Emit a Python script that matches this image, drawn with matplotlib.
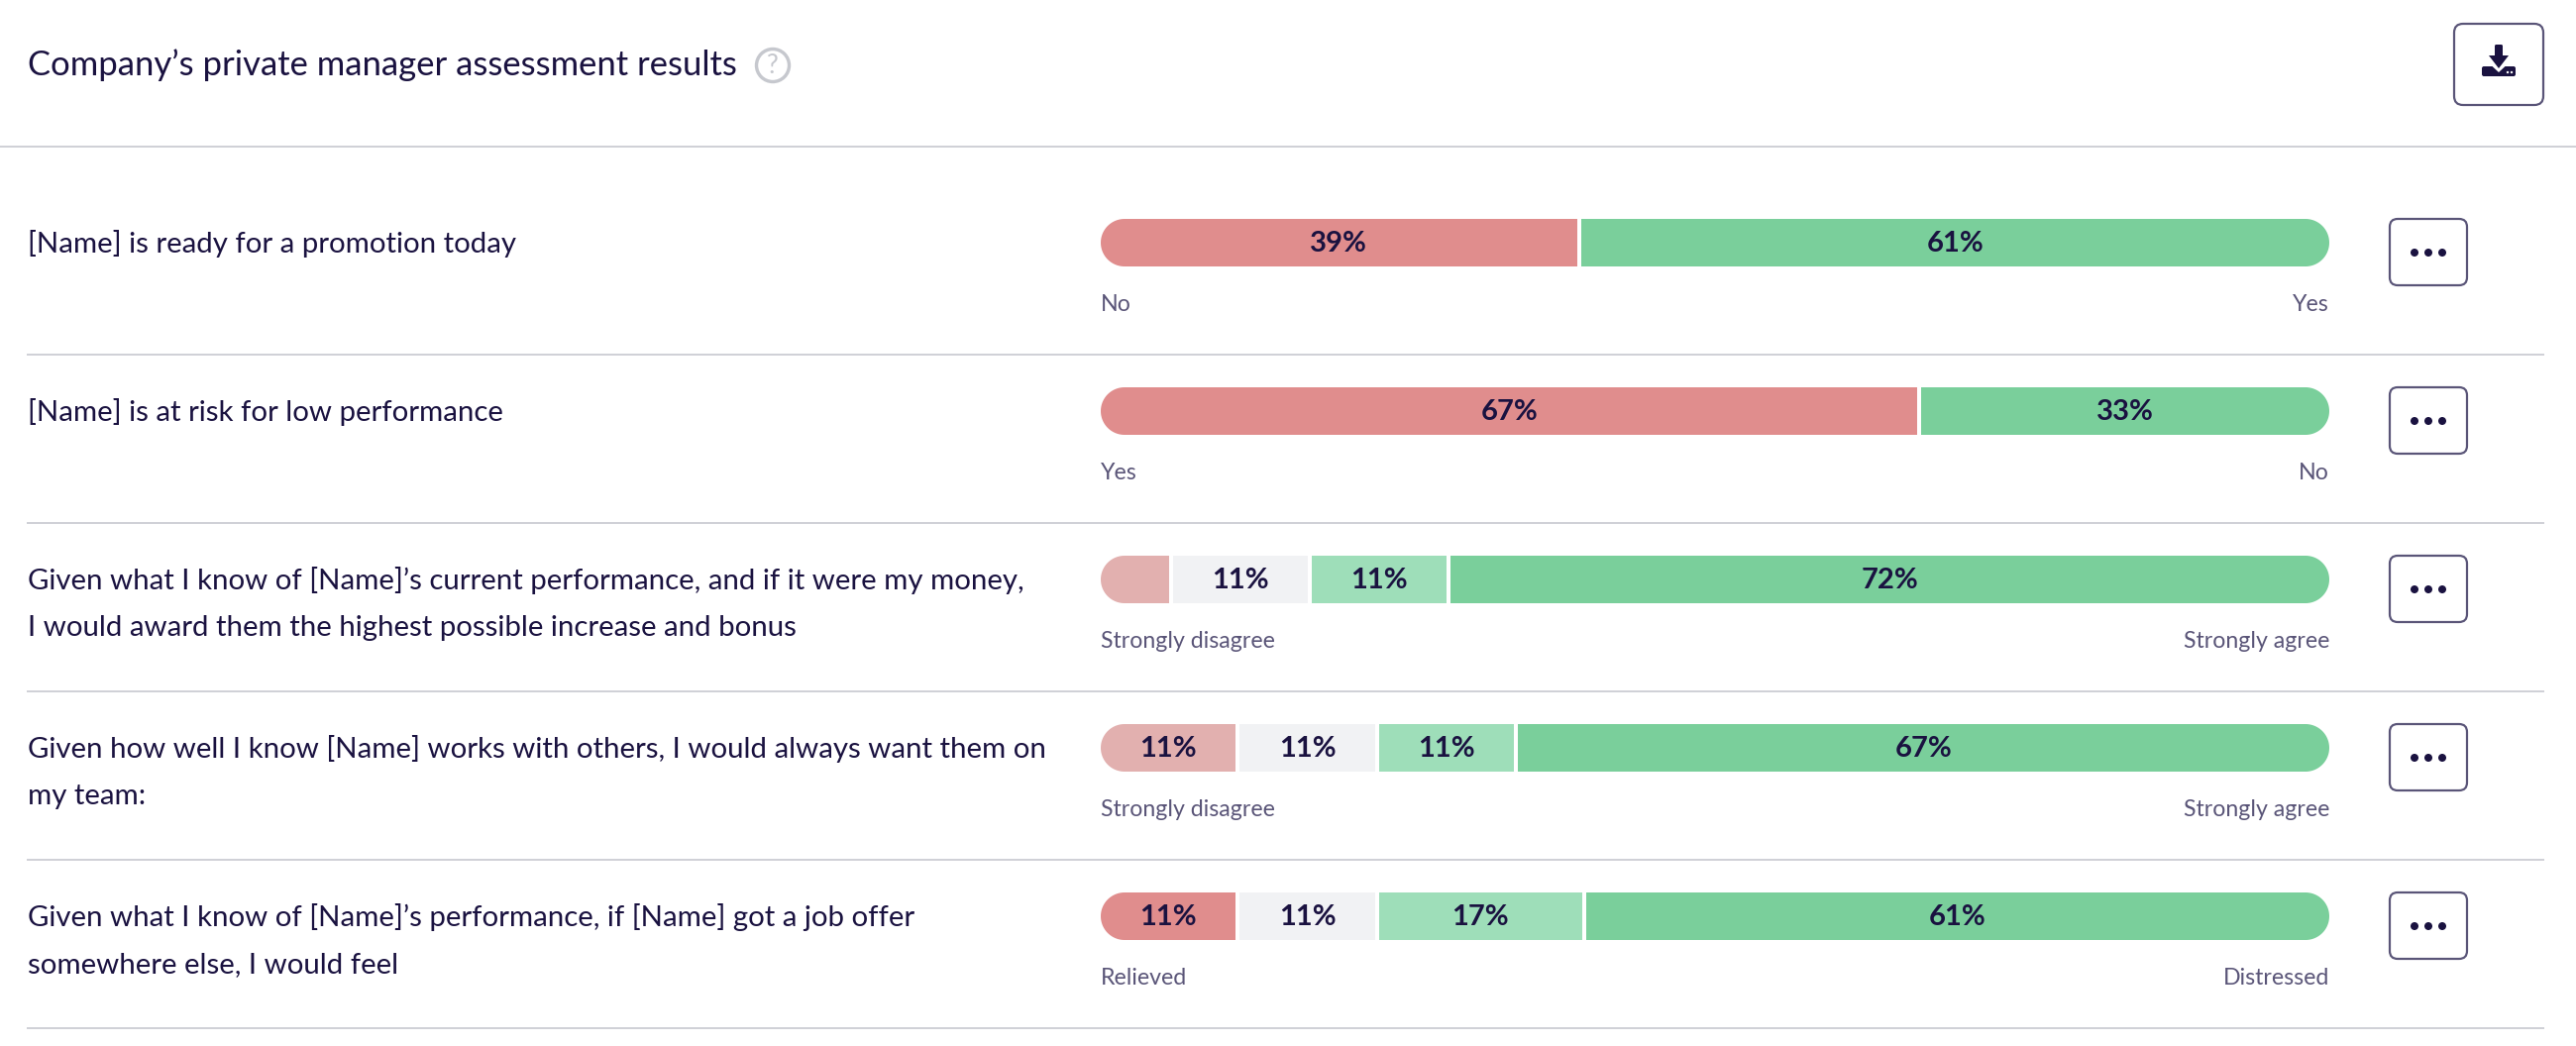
# -*- coding: utf-8 -*-
"""Private manager assessment results, stacked pill bars per question."""
import matplotlib
matplotlib.use('Agg')
import matplotlib.pyplot as plt
import numpy as np
from matplotlib.patches import Circle, FancyBboxPatch, Polygon

plt.rcParams['font.family'] = ['Lato', 'DejaVu Sans']

# data
title = 'Company\u2019s private manager assessment results'
questions = [
    ['[Name] is ready for a promotion today'],
    ['[Name] is at risk for low performance'],
    ['Given what I know of [Name]\u2019s current performance, and if it were my money,',
     'I would award them the highest possible increase and bonus'],
    ['Given how well I know [Name] works with others, I would always want them on',
     'my team:'],
    ['Given what I know of [Name]\u2019s performance, if [Name] got a job offer',
     'somewhere else, I would feel'],
]
shares = [
    [38.9, 61.1],
    [66.7, 33.3],
    [5.6, 11.1, 11.1, 72.2],
    [11.1, 11.1, 11.1, 66.7],
    [11.1, 11.1, 16.7, 61.1],
]
low_labels = ['No', 'Yes', 'Strongly disagree', 'Strongly disagree', 'Relieved']
high_labels = ['Yes', 'No', 'Strongly agree', 'Strongly agree', 'Distressed']

# colours
ink = '#1A1240'
muted = '#5A5578'
rule = '#D0D1D7'
red, pale_red = '#E08D8D', '#E2B0AF'
grey, pale_green, green = '#F1F2F4', '#9EDEB9', '#7ACF9B'
row_colors = [
    [red, green],
    [red, green],
    [pale_red, grey, pale_green, green],
    [pale_red, grey, pale_green, green],
    [red, grey, pale_green, green],
]

# layout, all in pixels of the 2600x1056 canvas
W, H = 2600, 1056
bar_x, bar_w, bar_h = 1111, 1240, 48
row_top = 221
row_step = 170
gap_px = 4
px = 72 / 100.  # points per pixel

fig = plt.figure(figsize=(W / 100., H / 100.), dpi=100, facecolor='white')
bg = fig.add_axes([0, 0, 1, 1])
bg.set_xlim(0, W)
bg.set_ylim(H, 0)
bg.axis('off')

# header
bg.text(28, 66, title, color=ink, fontsize=24.9, va='center', ha='left')
bg.add_patch(Circle((780, 66), 16.5, fc='white', ec='#C6C8CE', lw=3.4 * px))
bg.text(780, 66, '?', color='#C6C8CE', fontsize=19, ha='center', va='center')
bg.plot([0, W], [148, 148], color=rule, lw=2 * px)


def button(x0, y0, w, h, r):
    bg.add_patch(FancyBboxPatch((x0, y0), w, h,
                                boxstyle='round,pad=0,rounding_size=%d' % r,
                                fc='white', ec=muted, lw=2.2 * px))


def pill_polygon(x0, y0, w, h):
    # true semicircle ends, the 'round' boxstyle comes out too square
    r = h / 2.
    th = np.linspace(-np.pi / 2, np.pi / 2, 40)
    right = np.c_[x0 + w - r + r * np.cos(th), y0 + r + r * np.sin(th)]
    left = np.c_[x0 + r - r * np.cos(th[::-1]), y0 + r + r * np.sin(th[::-1])]
    return Polygon(np.r_[right, left], closed=True, transform=bg.transData)


# download button
button(2477, 24, 90, 82, 9)
bg.add_patch(FancyBboxPatch((2505, 67), 34, 10,
                            boxstyle='round,pad=0,rounding_size=2',
                            fc=ink, ec='none'))
bg.add_patch(Polygon([[2508, 60], [2536, 60], [2522, 73]], fc='white', ec='none'))
bg.add_patch(Polygon([[2512, 56], [2532, 56], [2522, 69]], fc=ink, ec='none'))
bg.add_patch(FancyBboxPatch((2518, 45), 8, 13,
                            boxstyle='round,pad=0,rounding_size=1.5',
                            fc=ink, ec='none'))
for xx in (2531, 2535):
    bg.add_patch(Circle((xx, 73), 1.2, fc='white', ec='none'))

for ii, (lines, vals, cols) in enumerate(zip(questions, shares, row_colors)):
    top = row_top + ii * row_step

    # question text
    for jj, line in enumerate(lines):
        bg.text(28, top + 25 + jj * 48, line, color=ink, fontsize=21.2,
                ha='left', va='center')

    # scale ends
    bg.text(bar_x, top + 87, low_labels[ii], color=muted, fontsize=16.7,
            ha='left', va='center')
    bg.text(bar_x + bar_w, top + 87, high_labels[ii], color=muted,
            fontsize=16.7, ha='right', va='center')

    # row rule
    bg.plot([28, 2567], [top + 137, top + 137], color=rule, lw=2 * px)

    # menu button
    button(2412, top, 78, 67, 8)
    for dx in (-14, 0, 14):
        bg.add_patch(Circle((2451 + dx, top + 34), 4, fc=ink, ec='none'))

    # stacked bar: shares use the track that is left after the white gaps
    ax = fig.add_axes([bar_x / float(W), 1 - (top + bar_h) / float(H),
                       bar_w / float(W), bar_h / float(H)])
    ax.set_xlim(0, 100)
    ax.set_ylim(0, 1)
    ax.axis('off')
    gap = 100. * gap_px / bar_w
    scale = (100 - gap * (len(vals) - 1)) / 100.
    pill = pill_polygon(bar_x, top, bar_w, bar_h)
    left = 0
    for val, col in zip(vals, cols):
        bars = ax.barh(0.5, val * scale, left=left, height=1, color=col,
                       linewidth=0)
        bars[0].set_clip_path(pill)
        if val >= 10:  # small segments go unlabelled
            ax.text(left + val * scale / 2., 0.48, '%.0f%%' % val, color=ink,
                    fontsize=21, fontweight='bold', ha='center', va='center')
        left += val * scale + gap

fig.savefig('out.png', dpi=100, facecolor='white')
